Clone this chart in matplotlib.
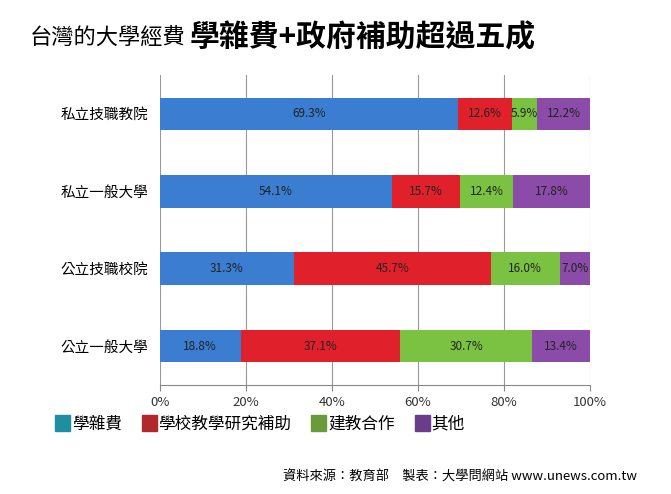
import matplotlib.pyplot as plt
import numpy as np

plt.rcParams['font.family'] = ['Noto Sans CJK TC', 'DejaVu Sans']

categories = ['公立一般大學', '公立技職校院', '私立一般大學', '私立技職教院']
series_names = ['學雜費', '學校教學研究補助', '建教合作', '其他']
values = [
    [18.8, 31.3, 54.1, 69.3],
    [37.1, 45.7, 15.7, 12.6],
    [30.7, 16.0, 12.4, 5.9],
    [13.4, 7.0, 17.8, 12.2],
]
bar_colors = ['#3b7dd0', '#e0202a', '#7cc242', '#8a4ca8']
legend_colors = ['#1f8ea3', '#b0282c', '#6a9a3a', '#6a3d8a']

fig = plt.figure(figsize=(6.71, 4.94), dpi=100)
ax = fig.add_axes([0.238, 0.221, 0.641, 0.627])

y = np.arange(len(categories))
left = np.zeros(len(categories))
for vals, c in zip(values, bar_colors):
    vals = np.array(vals)
    ax.barh(y, vals, left=left, height=0.42, color=c, zorder=3)
    for yi, l, v in zip(y, left, vals):
        ax.text(l + v / 2, yi, f'{v:.1f}%', ha='center', va='center',
                fontsize=8.5, color='#222222', zorder=4)
    left += vals

ax.set_xlim(0, 100)
ax.set_ylim(-0.5, 3.5)
ax.set_xticks(range(0, 101, 20))
ax.set_xticklabels([f'{t}%' for t in range(0, 101, 20)], fontsize=9.5, color='#333333')
ax.set_yticks(y)
ax.set_yticklabels(categories, fontsize=10.5)
ax.tick_params(axis='y', length=0, pad=8)
ax.tick_params(axis='x', length=4, color='#888888', pad=4)
ax.xaxis.grid(True, color='#999999', lw=0.8, zorder=0)
for s in ['top', 'right', 'left']:
    ax.spines[s].set_visible(False)
ax.spines['bottom'].set_color('#888888')

t1 = fig.text(0.045, 0.925, '台灣的大學經費', fontsize=16, va='center')
fig.canvas.draw()
bb = t1.get_window_extent().transformed(fig.transFigure.inverted())
fig.text(bb.x1 + 0.005, 0.925, '學雜費+政府補助超過五成', fontsize=21.5,
         fontweight='bold', va='center')

handles = [plt.Rectangle((0, 0), 1, 1, color=c) for c in legend_colors]
fig.legend(handles, series_names, loc='center left', bbox_to_anchor=(0.06, 0.143),
           ncol=4, frameon=False, fontsize=12, handlelength=0.9, handleheight=1.1,
           handletextpad=0.1, columnspacing=1.2)

fig.text(0.95, 0.035, '資料來源：教育部　製表：大學問網站 www.unews.com.tw',
         ha='right', va='center', fontsize=9.5)

fig.savefig('out.png', dpi=100)
